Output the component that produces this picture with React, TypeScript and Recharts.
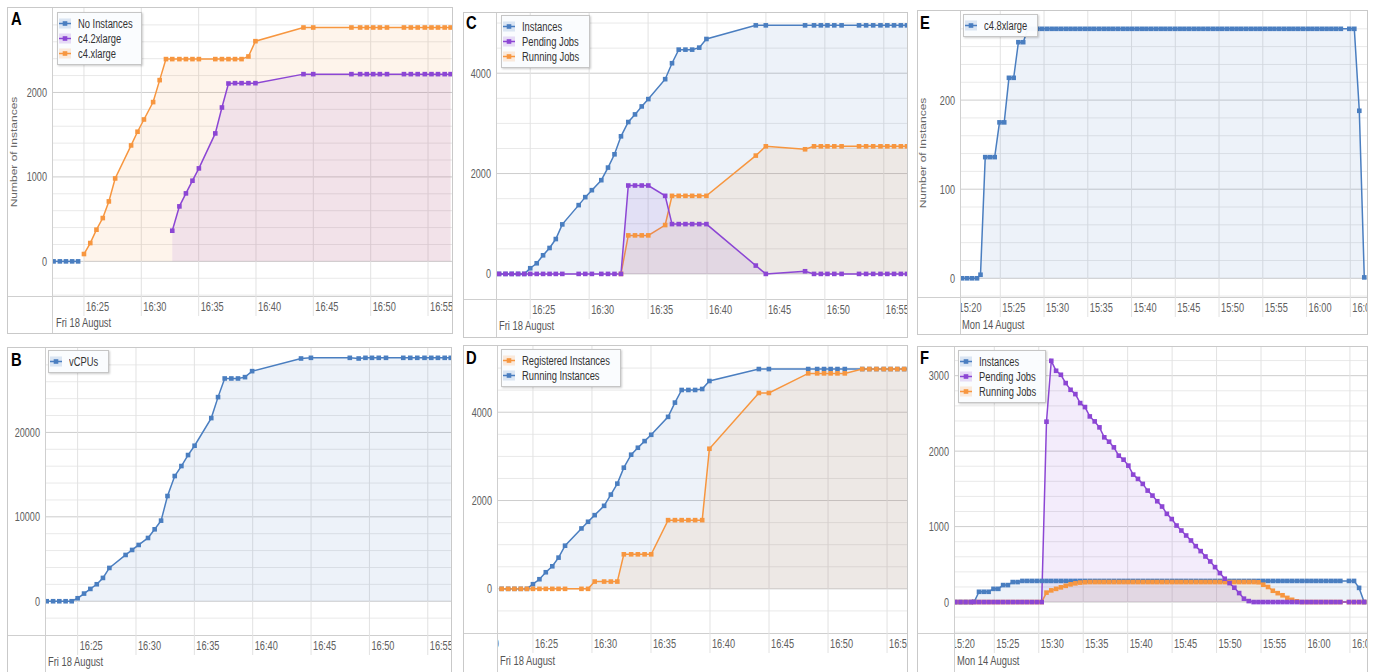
import React from "react";
import { AreaChart, Area, XAxis, YAxis, CartesianGrid, Legend } from "recharts";

const BLUE = "#4a7ec0";
const PURPLE = "#8c46d4";
const ORANGE = "#f7963f";
const FONT = '"Liberation Sans", Arial, sans-serif';

// ---- Fri 18 August run: sample times in minutes after 16:00 ----
const aug18Minutes = [
  22.35, 22.9, 23.43, 23.97, 24.49,
  25.0, 25.55, 26.09, 26.64, 27.17, 27.72,
  29.11, 29.67, 30.23, 31.03, 31.6, 32.15, 32.7, 33.32, 33.89, 34.46, 35.02,
  36.45, 37.03, 37.6, 38.17, 38.74, 39.34, 39.95,
  44.14, 44.99,
  48.32, 49.08, 49.66, 50.22, 50.8, 51.42,
  52.9, 53.5, 54.1, 54.72, 55.3, 55.87, 56.45, 56.97,
];
const aug18Ticks = [20, 25, 30, 35, 40, 45, 50, 55];

// A
const noInstances = [
  0, 0, 0, 0, 0,
  null, null, null, null, null, null,
  null, null, null, null, null, null, null, null, null, null, null,
  null, null, null, null, null, null, null,
  null, null,
  null, null, null, null, null, null,
  null, null, null, null, null, null, null, null,
];
const c42xlarge = [
  null, null, null, null, null,
  null, null, null, null, null, null,
  null, null, null, null, null, null, 363, 651, 805, 955, 1101,
  1515, 1822, 2106, 2110, 2110, 2110, 2110,
  2217, 2217,
  2217, 2217, 2217, 2217, 2217, 2217,
  2217, 2217, 2217, 2217, 2217, 2217, 2217, 2217,
];
const c4xlarge = [
  null, null, null, null, null,
  87, 217, 375, 513, 710, 982,
  1373, 1535, 1680, 1886, 2146, 2395, 2395, 2395, 2395, 2395, 2395,
  2395, 2395, 2395, 2395, 2395, 2426, 2607,
  2769, 2769,
  2769, 2769, 2769, 2769, 2769, 2769,
  2769, 2769, 2769, 2769, 2769, 2769, 2769, 2769,
];

// B
const vCPUs = [
  0, 0, 0, 0, 0,
  355, 907, 1460, 2012, 2761, 3945,
  5483, 6075, 6667, 7495, 8521, 9546, 12465, 14832, 16016, 17318, 18422,
  21696, 24181, 26390, 26390, 26390, 26548, 27258,
  28757, 28836,
  28836, 28757, 28836, 28836, 28836, 28836,
  28836, 28836, 28836, 28836, 28836, 28836, 28836, 28836,
];

// C
const instancesC = [
  0, 0, 0, 0, 0,
  113, 212, 371, 517, 695, 987,
  1371, 1530, 1669, 1868, 2119, 2384, 2742, 3027, 3179, 3338, 3484,
  3881, 4199, 4470, 4470, 4470, 4510, 4682,
  4954, 4954,
  4954, 4954, 4954, 4954, 4954, 4954,
  4954, 4954, 4954, 4954, 4954, 4954, 4954, 4954,
];
const pendingJobsC = [
  0, 0, 0, 0, 0,
  0, 0, 0, 0, 0, 0,
  0, 0, 0, 0, 0, 0, 0, 1762, 1762, 1762, 1762,
  1556, 993, 993, 993, 993, 993, 993,
  166, 0,
  53, 0, 0, 0, 0, 0,
  0, 0, 0, 0, 0, 0, 0, 0,
];
const runningJobsC = [
  null, null, null, null, null,
  null, null, null, null, null, null,
  null, null, null, null, null, null, 0, 768, 768, 768, 768,
  974, 1556, 1556, 1556, 1556, 1556, 1556,
  2358, 2543,
  2484, 2543, 2543, 2543, 2543, 2543,
  2543, 2543, 2543, 2543, 2543, 2543, 2543, 2543,
];

// D
const registeredInstances = [
  0, 0, 0, 0, 0,
  0, 0, 0, 0, 0, 0,
  0, 0, 165, 165, 165, 165, 782, 782, 782, 782, 782,
  1556, 1556, 1556, 1556, 1556, 1556, 3173,
  4436, 4436,
  4880, 4880, 4880, 4880, 4880, 4880,
  4978, 4978, 4978, 4978, 4978, 4978, 4978, 4978,
];
const runningInstances = [
  0, 0, 0, 0, 0,
  105, 218, 376, 511, 707, 977,
  1368, 1519, 1669, 1880, 2135, 2383, 2744, 3038, 3196, 3346, 3489,
  3895, 4218, 4504, 4504, 4504, 4526, 4707,
  4978, 4978,
  4978, 4978, 4978, 4978, 4978, 4978,
  4978, 4978, 4978, 4978, 4978, 4978, 4978, 4978,
];

// ---- Mon 14 August run: sample times in minutes after 15:00 ----
const aug14Minutes = [
  20.63, 21.2, 21.77, 22.34, 22.74,
  23.28, 23.82, 24.36, 24.91, 25.45, 25.99, 26.53, 27.07, 27.62, 28.16,
  28.7, 29.24, 29.78, 30.33, 30.87, 31.41, 31.95, 32.49, 33.03, 33.58,
  34.12, 34.66, 35.2, 35.74, 36.29, 36.83, 37.37, 37.91, 38.45, 39.0,
  39.54, 40.08, 40.62, 41.16, 41.7, 42.25, 42.79, 43.33, 43.87, 44.41,
  44.96, 45.5, 46.04, 46.58, 47.12, 47.66, 48.21, 48.75, 49.29, 49.83,
  50.37, 50.92, 51.46, 52.0, 52.54, 53.08, 53.62, 54.17, 54.71, 55.25,
  55.79, 56.33, 56.88, 57.42, 57.96, 58.5, 59.04, 59.58, 60.13, 60.67,
  61.21, 61.75, 62.29, 62.84, 63.38, 63.92,
  64.89, 65.46, 66.03, 66.6,
];
const aug14Ticks = [20, 25, 30, 35, 40, 45, 50, 55, 60, 65];

// E (also the Instances series of F)
const c48xlarge = [
  0, 0, 0, 0, 4,
  136, 136, 136, 175, 175, 225, 225, 265, 265, 280,
  280, 280, 280, 280, 280, 280, 280, 280, 280, 280,
  280, 280, 280, 280, 280, 280, 280, 280, 280, 280,
  280, 280, 280, 280, 280, 280, 280, 280, 280, 280,
  280, 280, 280, 280, 280, 280, 280, 280, 280, 280,
  280, 280, 280, 280, 280, 280, 280, 280, 280, 280,
  280, 280, 280, 280, 280, 280, 280, 280, 280, 280,
  280, 280, 280, 280, 280, 280,
  280, 280, 188, 1,
];

// F
const pendingJobsF = [
  0, 0, 0, 0, 0,
  0, 0, 0, 0, 0, 0, 0, 0, 0, 0,
  0, 0, 0, 0, 2390, 3197, 3065, 3012, 2902, 2813,
  2756, 2637, 2584, 2460, 2394, 2315, 2183, 2125, 2050, 1940,
  1887, 1808, 1689, 1632, 1566, 1477, 1411, 1336, 1266, 1169,
  1100, 1014, 948, 882, 816, 741, 675, 604, 538, 463,
  384, 309, 251, 190, 119, 45, 13, 0, 0, 0,
  0, 0, 0, 0, 0, 0, 0, 0, 0, 0,
  0, 0, 0, 0, 0, 0,
  0, 0, 0, 0,
];
const runningJobsF = [
  0, 0, 0, 0, 0,
  0, 0, 0, 0, 0, 0, 0, 0, 0, 0,
  0, 0, 0, 0, 125, 155, 175, 195, 215, 235,
  248, 258, 263, 265, 265, 265, 265, 265, 265, 265,
  265, 265, 265, 265, 265, 265, 265, 265, 265, 265,
  265, 265, 265, 265, 265, 265, 265, 265, 265, 265,
  265, 265, 265, 265, 265, 265, 265, 265, 262, 230,
  200, 150, 118, 90, 55, 30, 10, 0, 0, 0,
  0, 0, 0, 0, 0, 0,
  0, 0, 0, 0,
];

type Series = { key: string; name: string; color: string; values: (number | null)[] };

type PanelProps = {
  id: string;
  box: { x: number; y: number; w: number; h: number };
  plotLeft: number;
  plotBottom: number;
  minutes: number[];
  hour: number;
  xDomain: [number, number];
  xTicks: number[];
  yDomain: [number, number];
  yTicks: number[];
  yMinor: number;
  series: Series[]; // drawing order
  legendOrder: string[];
  legend: { x: number; y: number; w: number };
  date: string;
  dateAt: { x: number; y: number };
  yTitle?: { x: number; y: number };
  letterAt: { x: number; y: number };
};

const fmtTime = (m: number, hour: number) => {
  const h = hour + Math.floor(m / 60);
  const mm = m % 60;
  return `${h}:${mm < 10 ? "0" : ""}${mm}`;
};

const gridRange = (min: number, max: number, step: number) => {
  const out: number[] = [];
  for (let v = Math.ceil(min / step) * step; v < max; v += step) if (v > min) out.push(v);
  return out;
};

const squareDot = (color: string) => (props: any) => {
  const { cx, cy, index } = props;
  if (cx == null || cy == null || isNaN(cy)) return <g key={index} />;
  return <rect key={index} x={cx - 2.3} y={cy - 2.3} width={4.6} height={4.6} fill={color} />;
};

function LegendBox({ items, width }: { items: Series[]; width: number }) {
  return (
    <div
      style={{
        position: "relative",
        width,
        height: items.length * 15 + 8,
        boxSizing: "border-box",
        border: "1px solid #c6c6c6",
        background: "rgba(250,252,254,0.96)",
        boxShadow: "1px 1px 2px rgba(0,0,0,0.2)",
        fontFamily: FONT,
      }}
    >
      {items.map((s, i) => (
        <div
          key={s.key}
          style={{ position: "absolute", left: 1, top: 3.5 + i * 15, height: 14, display: "flex", alignItems: "center" }}
        >
          <svg width={12} height={11} style={{ flex: "none" }}>
            <rect x={0} y={0.5} width={12} height={10} fill={s.color} fillOpacity={0.18} />
            <line x1={0} x2={12} y1={5.5} y2={5.5} stroke={s.color} strokeWidth={1.5} />
            <rect x={3.7} y={3.2} width={4.6} height={4.6} fill={s.color} />
          </svg>
          <span
            style={{
              marginLeft: 7,
              fontSize: 12,
              color: "#333",
              display: "inline-block",
              whiteSpace: "nowrap",
              transform: "scaleX(0.78)",
              transformOrigin: "0 50%",
            }}
          >
            {s.name}
          </span>
        </div>
      ))}
    </div>
  );
}

function Panel(p: PanelProps) {
  const left = p.box.x + 1;
  const top = p.box.y + 1;
  const cw = p.box.w - 2;
  const ch = p.box.h - 2;
  const yAxisW = p.plotLeft - left;
  const plotH = p.plotBottom - top;
  const xAxisH = ch - plotH;

  const data = p.minutes.map((t, i) => {
    const row: Record<string, number | null> = { t };
    p.series.forEach((s) => (row[s.key] = s.values[i]));
    return row;
  });
  const minor = gridRange(p.yDomain[0], p.yDomain[1], p.yMinor).filter((v) => !p.yTicks.includes(v));
  const gridX = p.xTicks.filter((v) => v > p.xDomain[0] && v < p.xDomain[1]);
  const legendItems = p.legendOrder.map((k) => p.series.find((s) => s.key === k)!);

  const renderXTick = (props: any) => {
    const { x, y, payload, index } = props;
    const clipId = `xclip-${p.id}-${index}`;
    return (
      <g>
        <defs>
          <clipPath id={clipId}>
            <rect x={yAxisW} y={0} width={cw} height={ch} />
          </clipPath>
        </defs>
        {x >= yAxisW && <line x1={x} x2={x} y1={y} y2={y + 20} stroke="#e2e2e2" />}
        <g clipPath={`url(#${clipId})`}>
          <text transform={`translate(${x + 2},${y + 14.5}) scale(0.71,1)`} fontSize={13} fill="#606060" fontFamily={FONT}>
            {fmtTime(payload.value, p.hour)}
          </text>
        </g>
      </g>
    );
  };

  const renderYTick = (props: any) => {
    const { x, y, payload } = props;
    return (
      <text
        transform={`translate(${x - 6},${y + 4.5}) scale(0.7,1)`}
        textAnchor="end"
        fontSize={13}
        fill="#606060"
        fontFamily={FONT}
      >
        {payload.value}
      </text>
    );
  };

  return (
    <>
      <div
        style={{
          position: "absolute",
          left: p.box.x,
          top: p.box.y,
          width: p.box.w,
          height: p.box.h,
          boxSizing: "border-box",
          border: "1px solid #c9c9c9",
        }}
      />
      <div style={{ position: "absolute", left: left, top: p.plotBottom, width: cw, height: 1, background: "#cfcfcf" }} />
      <div style={{ position: "absolute", left: p.plotLeft - 1, top: top, width: 1, height: ch, background: "#cfcfcf" }} />
      <div style={{ position: "absolute", left, top }}>
        <AreaChart width={cw} height={ch} data={data} margin={{ top: 0, right: 0, bottom: 0, left: 0 }}>
          <CartesianGrid horizontalValues={minor} vertical={false} stroke="#e9e9e9" />
          <CartesianGrid horizontalValues={p.yTicks} vertical={false} stroke="#cdcdcd" />
          <CartesianGrid verticalValues={gridX} horizontal={false} stroke="#e2e2e2" />
          <XAxis
            dataKey="t"
            type="number"
            domain={p.xDomain}
            allowDataOverflow
            ticks={p.xTicks}
            interval={0}
            height={xAxisH}
            tickLine={false}
            axisLine={false}
            tickSize={0}
            tickMargin={0}
            tick={renderXTick}
          />
          <YAxis
            type="number"
            domain={p.yDomain}
            allowDataOverflow
            ticks={p.yTicks}
            interval={0}
            width={yAxisW}
            tickLine={false}
            axisLine={false}
            tickSize={0}
            tickMargin={0}
            tick={renderYTick}
          />
          {p.series.map((s) => (
            <Area
              key={s.key}
              type="linear"
              dataKey={s.key}
              name={s.name}
              stroke={s.color}
              strokeWidth={1.5}
              fill={s.color}
              fillOpacity={0.1}
              baseValue={0}
              connectNulls={false}
              dot={squareDot(s.color)}
              activeDot={false}
              isAnimationActive={false}
            />
          ))}
          <Legend
            layout="horizontal"
            verticalAlign="middle"
            align="center"
            wrapperStyle={{ left: p.legend.x - left, top: p.legend.y - top, width: p.legend.w }}
            content={() => <LegendBox items={legendItems} width={p.legend.w} />}
          />
        </AreaChart>
      </div>
      <div
        style={{
          position: "absolute",
          left: p.letterAt.x - 0.5,
          top: p.letterAt.y - 2.3,
          fontSize: 18,
          lineHeight: "18px",
          fontWeight: 700,
          color: "#000",
          transform: "scaleX(0.82)",
          transformOrigin: "0 0",
        }}
      >
        {p.id}
      </div>
      <div
        style={{
          position: "absolute",
          left: p.dateAt.x,
          top: p.dateAt.y - 10.2,
          fontSize: 12,
          lineHeight: "12px",
          color: "#555",
          whiteSpace: "nowrap",
          transform: "scaleX(0.78)",
          transformOrigin: "0 0",
        }}
      >
        {p.date}
      </div>
      {p.yTitle && (
        <div
          style={{
            position: "absolute",
            left: p.yTitle.x,
            top: p.yTitle.y,
            fontSize: 12,
            lineHeight: "12px",
            color: "#666",
            whiteSpace: "nowrap",
            transform: "translate(-50%,-50%) rotate(-90deg) scaleY(0.75)",
          }}
        >
          Number of Instances
        </div>
      )}
    </>
  );
}

const panels: PanelProps[] = [
  {
    id: "A",
    box: { x: 7, y: 7, w: 446, h: 327 },
    plotLeft: 53,
    plotBottom: 296,
    minutes: aug18Minutes,
    hour: 16,
    xDomain: [22.3, 57.09],
    xTicks: aug18Ticks,
    yDomain: [-410, 3000],
    yTicks: [0, 1000, 2000],
    yMinor: 200,
    series: [
      { key: "none", name: "No Instances", color: BLUE, values: noInstances },
      { key: "c4", name: "c4.xlarge", color: ORANGE, values: c4xlarge },
      { key: "c42", name: "c4.2xlarge", color: PURPLE, values: c42xlarge },
    ],
    legendOrder: ["none", "c42", "c4"],
    legend: { x: 57, y: 12, w: 85 },
    date: "Fri 18 August",
    dateAt: { x: 56, y: 327.5 },
    yTitle: { x: 14, y: 152 },
    letterAt: { x: 11.7, y: 12.7 },
  },
  {
    id: "C",
    box: { x: 463, y: 12, w: 445, h: 326 },
    plotLeft: 497,
    plotBottom: 299,
    minutes: aug18Minutes,
    hour: 16,
    xDomain: [22.18, 56.97],
    xTicks: aug18Ticks,
    yDomain: [-500, 5200],
    yTicks: [0, 2000, 4000],
    yMinor: 500,
    series: [
      { key: "inst", name: "Instances", color: BLUE, values: instancesC },
      { key: "run", name: "Running Jobs", color: ORANGE, values: runningJobsC },
      { key: "pend", name: "Pending Jobs", color: PURPLE, values: pendingJobsC },
    ],
    legendOrder: ["inst", "pend", "run"],
    legend: { x: 501, y: 15, w: 89 },
    date: "Fri 18 August",
    dateAt: { x: 499, y: 330.5 },
    letterAt: { x: 466.7, y: 16.7 },
  },
  {
    id: "E",
    box: { x: 917, y: 10, w: 451, h: 325 },
    plotLeft: 961,
    plotBottom: 297,
    minutes: aug14Minutes,
    hour: 15,
    xDomain: [20.51, 66.91],
    xTicks: aug14Ticks,
    yDomain: [-21, 300],
    yTicks: [0, 100, 200],
    yMinor: 20,
    series: [{ key: "c48", name: "c4.8xlarge", color: BLUE, values: c48xlarge }],
    legendOrder: ["c48"],
    legend: { x: 963, y: 14, w: 75 },
    date: "Mon 14 August",
    dateAt: { x: 961.7, y: 329.5 },
    yTitle: { x: 923, y: 153 },
    letterAt: { x: 920, y: 16.7 },
  },
  {
    id: "B",
    box: { x: 7, y: 347, w: 445, h: 327 },
    plotLeft: 46,
    plotBottom: 635,
    minutes: aug18Minutes,
    hour: 16,
    xDomain: [22.29, 56.99],
    xTicks: aug18Ticks,
    yDomain: [-4000, 30000],
    yTicks: [0, 10000, 20000],
    yMinor: 2000,
    series: [{ key: "vcpu", name: "vCPUs", color: BLUE, values: vCPUs }],
    legendOrder: ["vcpu"],
    legend: { x: 48, y: 350, w: 61 },
    date: "Fri 18 August",
    dateAt: { x: 47.7, y: 666.5 },
    letterAt: { x: 11.7, y: 353.3 },
  },
  {
    id: "D",
    box: { x: 463, y: 345, w: 445, h: 329 },
    plotLeft: 498,
    plotBottom: 633,
    minutes: aug18Minutes,
    hour: 16,
    xDomain: [22.04, 56.69],
    xTicks: aug18Ticks,
    yDomain: [-1000, 5500],
    yTicks: [0, 2000, 4000],
    yMinor: 500,
    series: [
      { key: "running", name: "Running Instances", color: BLUE, values: runningInstances },
      { key: "reg", name: "Registered Instances", color: ORANGE, values: registeredInstances },
    ],
    legendOrder: ["reg", "running"],
    legend: { x: 501, y: 349, w: 120 },
    date: "Fri 18 August",
    dateAt: { x: 500, y: 665.5 },
    letterAt: { x: 466.7, y: 351 },
  },
  {
    id: "F",
    box: { x: 917, y: 346, w: 451, h: 328 },
    plotLeft: 955,
    plotBottom: 633,
    minutes: aug14Minutes,
    hour: 15,
    xDomain: [20.58, 66.92],
    xTicks: aug14Ticks,
    yDomain: [-410, 3380],
    yTicks: [0, 1000, 2000, 3000],
    yMinor: 200,
    series: [
      { key: "inst", name: "Instances", color: BLUE, values: c48xlarge },
      { key: "run", name: "Running Jobs", color: ORANGE, values: runningJobsF },
      { key: "pend", name: "Pending Jobs", color: PURPLE, values: pendingJobsF },
    ],
    legendOrder: ["inst", "pend", "run"],
    legend: { x: 958, y: 350, w: 88 },
    date: "Mon 14 August",
    dateAt: { x: 956.7, y: 665.5 },
    letterAt: { x: 920, y: 351.7 },
  },
];

export default function App() {
  return (
    <div
      style={{
        position: "absolute",
        left: 0,
        top: 0,
        width: 1376,
        height: 672,
        overflow: "hidden",
        background: "#fff",
        fontFamily: FONT,
      }}
    >
      {panels.map((p) => (
        <Panel key={p.id} {...p} />
      ))}
    </div>
  );
}
